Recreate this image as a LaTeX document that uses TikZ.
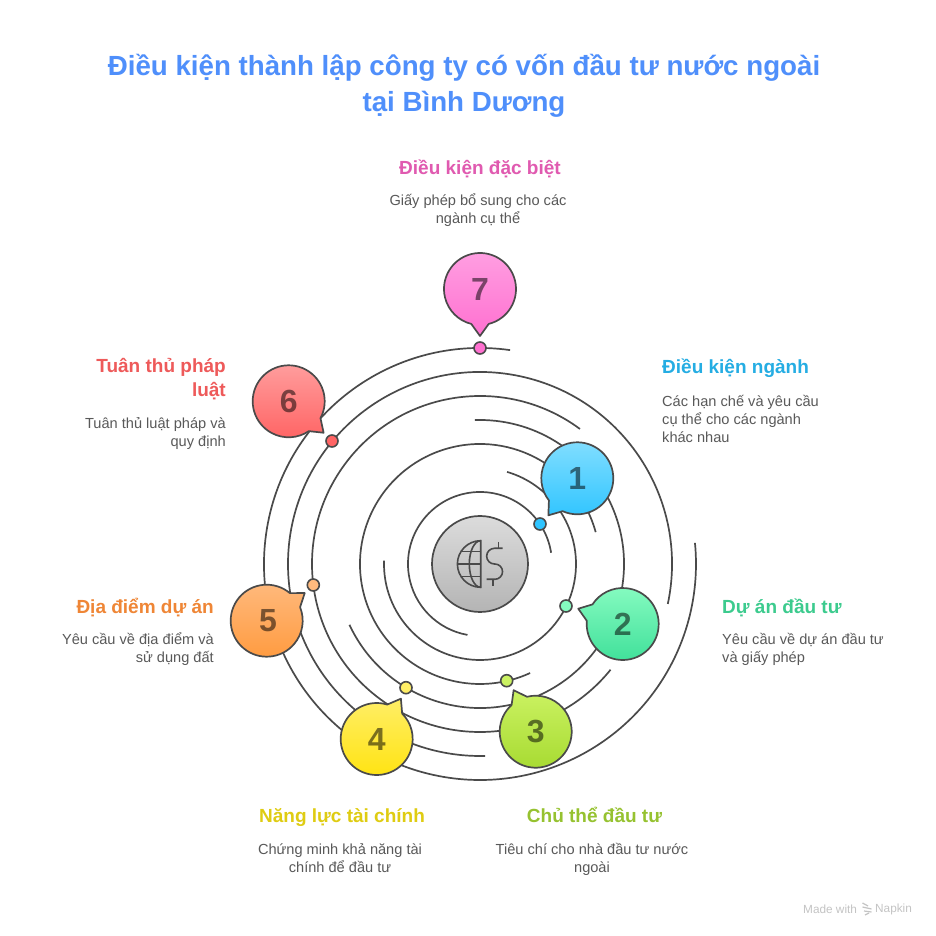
\documentclass[tikz,border=0pt]{standalone}
\usepackage{fontspec}
\setmainfont{Liberation Sans}

\definecolor{ringgray}{HTML}{4A4A4A}
\definecolor{descgray}{HTML}{595959}
\definecolor{titleblue}{HTML}{4F8FFB}
\definecolor{markgray}{HTML}{C4C4C4}
\definecolor{headA}{HTML}{25ADE3}
\definecolor{headB}{HTML}{3CCB8E}
\definecolor{headC}{HTML}{96C230}
\definecolor{headD}{HTML}{DFCC12}
\definecolor{headE}{HTML}{EF8636}
\definecolor{headF}{HTML}{EE5A5A}
\definecolor{headG}{HTML}{E05AB0}
\definecolor{topA}{HTML}{85DFFF}
\definecolor{botA}{HTML}{2EC4FF}
\definecolor{topB}{HTML}{85FBC0}
\definecolor{botB}{HTML}{40E09A}
\definecolor{topC}{HTML}{CBF262}
\definecolor{botC}{HTML}{A6DA30}
\definecolor{topD}{HTML}{FFEE66}
\definecolor{botD}{HTML}{FFE30F}
\definecolor{topE}{HTML}{FFBA7E}
\definecolor{botE}{HTML}{FF9A3E}
\definecolor{topF}{HTML}{FFA0A0}
\definecolor{botF}{HTML}{FF6464}
\definecolor{topG}{HTML}{FFA0E2}
\definecolor{botG}{HTML}{FF70D0}
\definecolor{topH}{HTML}{DCDCDC}
\definecolor{botH}{HTML}{B4B4B4}

\tikzset{
  orbit/.style={draw=ringgray, line width=1.7pt},
  pin/.style={draw=ringgray, line width=1.7pt, line join=round},
  dotmark/.style={draw=ringgray, line width=1.6pt},
  icon/.style={draw=ringgray, line width=1.6pt},
  numtext/.style={font=\fontsize{32}{32}\selectfont\bfseries, text=black, text opacity=.52, inner sep=0},
  headtext/.style={font=\fontsize{19}{24}\selectfont\bfseries, inner sep=0},
  desctext/.style={font=\fontsize{14.6}{18}\selectfont, text=descgray, inner sep=0},
}

% center, tail angle, top color, bottom color
\newcommand{\bubble}[4]{
  \draw[pin, top color=#3, bottom color=#4] ([shift={(#2+14:36)}]#1)
    arc[start angle=#2+14, end angle=#2+346, radius=36] -- ([shift={(#2:47)}]#1) -- cycle;
}

\begin{document}
\begin{tikzpicture}[x=1pt, y=1pt]
  \useasboundingbox (-480, -372) rectangle (456, 564);
  \fill[white] (-480, -372) rectangle (456, 564);

  % orbits, origin at the middle disc
  \draw[orbit] (9:72) arc (9:260:72);
  \draw[orbit] (178:96) arc (178:433.6:96);
  \draw[orbit] (15.4:120) arc (15.4:294.7:120);
  \draw[orbit] (205:144) arc (205:452:144);
  \draw[orbit] (53.5:168) arc (53.5:321:168);
  \draw[orbit] (-12:192) arc (-12:271.5:192);
  \draw[orbit] (82:216) arc (82:365.6:216);

  % dots on the orbits
  \filldraw[dotmark, fill=botA] (60, 40) circle (6);
  \filldraw[dotmark, fill=topB] (86, -42) circle (6);
  \filldraw[dotmark, fill=topC] (26.7, -116.7) circle (6);
  \filldraw[dotmark, fill=topD] (-74, -123.7) circle (6);
  \filldraw[dotmark, fill=topE] (-166.7, -21) circle (6);
  \filldraw[dotmark, fill=botF] (-148, 123) circle (6);
  \filldraw[dotmark, fill=botG] (0, 216) circle (6);

  % bubbles
  \bubble{97.3, 85.7}{232}{topA}{botA}
  \bubble{142.7, -60}{161}{topB}{botB}
  \bubble{55.7, -167.7}{118}{topC}{botC}
  \bubble{-103.3, -175}{59}{topD}{botD}
  \bubble{-213.3, -56.7}{36}{topE}{botE}
  \bubble{-191.3, 162.7}{-42}{topF}{botF}
  \bubble{0, 275}{-90}{topG}{botG}

  \node[numtext] (numA) at (97.3, 85.7) {1};
  \node[numtext] (numB) at (142.7, -60) {2};
  \node[numtext] (numC) at (55.7, -167.7) {3};
  \node[numtext] (numD) at (-103.3, -175) {4};
  \node[numtext] (numE) at (-212, -56.7) {5};
  \node[numtext] (numF) at (-191.3, 162.7) {6};
  \node[numtext] (numG) at (0, 275) {7};

  % middle disc and its icon
  \draw[pin, top color=topH, bottom color=botH] (0, 0) circle (48);
  \draw[icon] (0.7, 23.3) arc (90:270:23.3) -- cycle;
  \draw[icon] (0.7, 23.3) arc (90:270:11.4 and 23.3);
  \draw[icon] (-22.6, 0) -- (0.7, 0);
  \draw[icon] (-19, 12.4) -- (0.7, 12.4);
  \draw[icon] (-19, -12.4) -- (0.7, -12.4);
  \draw[icon] (22.7, 15.7) -- (14.5, 15.7) arc (90:270:7.85) -- (14.9, 0) arc (90:-90:7.65) -- (6.7, -15.3);
  \draw[icon] (18.3, 22) -- (18.3, 15.7);
  \draw[icon] (12.7, -15.3) -- (12.7, -22);

  % title
  \node[font=\fontsize{27.7}{36}\selectfont\bfseries, text=titleblue, align=center, inner sep=0] (title) at (-16, 478.5)
    {Điều kiện thành lập công ty có vốn đầu tư nước ngoài\\tại Bình Dương};

  % labels
  \node[headtext, text=headG] (headg) at (0, 395) {Điều kiện đặc biệt};
  \node[desctext, align=center] (descg) at (-2, 354) {Giấy phép bổ sung cho các\\ngành cụ thể};

  \node[headtext, text=headA, anchor=west] (heada) at (182, 196) {Điều kiện ngành};
  \node[desctext, align=left, anchor=west] (desca) at (182, 145) {Các hạn chế và yêu cầu\\cụ thể cho các ngành\\khác nhau};

  \node[headtext, text=headB, anchor=west] (headb) at (242, -44) {Dự án đầu tư};
  \node[desctext, align=left, anchor=west] (descb) at (242, -85) {Yêu cầu về dự án đầu tư\\và giấy phép};

  \node[headtext, text=headC] (headc) at (114.5, -251) {Chủ thể đầu tư};
  \node[desctext, align=center] (descc) at (112, -295) {Tiêu chí cho nhà đầu tư nước\\ngoài};

  \node[headtext, text=headD] (headd) at (-138, -254) {Năng lực tài chính};
  \node[desctext, align=center] (descd) at (-140, -294) {Chứng minh khả năng tài\\chính để đầu tư};

  \node[headtext, text=headE, anchor=east] (heade) at (-266, -44) {Địa điểm dự án};
  \node[desctext, align=right, anchor=east] (desce) at (-266, -85) {Yêu cầu về địa điểm và\\sử dụng đất};

  \node[headtext, text=headF, align=right, anchor=east] (headf) at (-254, 185) {Tuân thủ pháp\\luật};
  \node[desctext, align=right, anchor=east] (descf) at (-254, 130) {Tuân thủ luật pháp và\\quy định};

  % watermark
  \node[font=\fontsize{11.8}{12}\selectfont, text=markgray, anchor=west, inner sep=0] (made) at (323, -345) {Made with};
  \node[font=\fontsize{11.8}{12}\selectfont, text=markgray, anchor=west, inner sep=0] (napkin) at (395, -345) {Napkin};
  \draw[markgray, line width=1.2pt] (382.5, -339) -- (388, -342);
  \draw[markgray, line width=1.2pt] (382.5, -343) -- (391.5, -345);
  \draw[markgray, line width=1.2pt] (384, -347) -- (391.5, -348);
  \draw[markgray, line width=1.2pt] (385, -351) -- (389, -349);
\end{tikzpicture}
\end{document}
